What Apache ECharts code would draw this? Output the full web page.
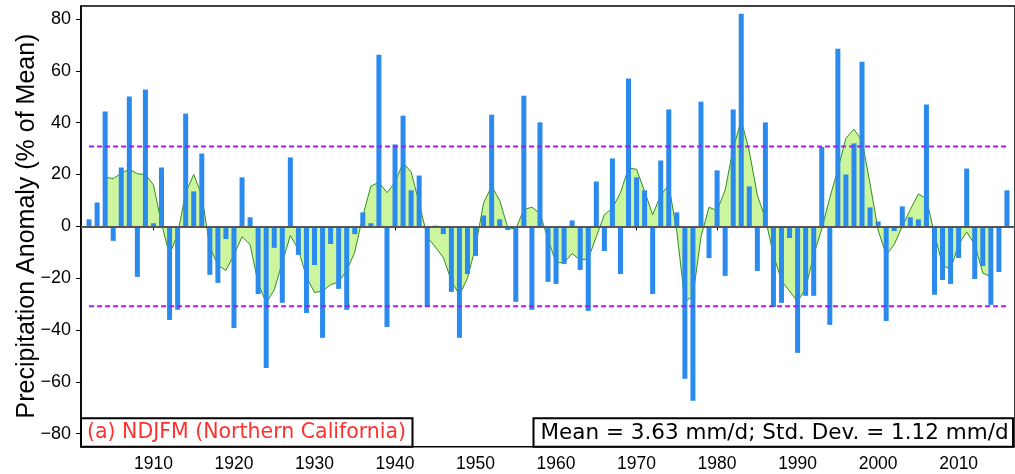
<!DOCTYPE html>
<html>
<head>
<meta charset="utf-8">
<script src="https://cdn.jsdelivr.net/npm/echarts@6/dist/echarts.min.js"></script>
<style>
html,body{margin:0;padding:0;background:#fff;}
#chart{width:1015px;height:474px;}
</style>
</head>
<body>
<div id="chart"></div>
<script>
// ---- Data ----
const barStartYear = 1902;
const anomalyPct = [
  2.7, 9.2, 44.3, -5.6, 22.7, 50.1, -19.5, 52.8, 1.2, 22.7,          // 1902-1911
  -36.1, -32.2, 43.5, 13.5, 28.1, -18.7, -21.8, -4.9, -39.2, 18.9,   // 1912-1921
  3.5, -26.1, -54.6, -8.3, -29.5, 26.6, -11.0, -33.4, -14.9, -43.0,  // 1922-1931
  -6.8, -24.1, -32.2, -3.0, 5.4, 1.2, 66.2, -38.8, 31.6, 42.7,       // 1932-1941
  13.9, 19.6, -31.1, 0.3, -3.0, -25.3, -43.0, -18.4, -11.4, 4.2,     // 1942-1951
  43.1, 2.7, -1.4, -29.1, 50.4, -32.2, 40.1, -21.4, -22.2, -14.5,    // 1952-1961
  2.3, -16.8, -32.6, 17.3, -9.5, 26.2, -18.4, 57.0, 18.9, 13.9,      // 1962-1971
  -26.1, 25.4, 45.1, 5.4, -58.8, -67.3, 48.1, -12.2, 21.6, -19.1,    // 1972-1981
  45.1, 82.0, 15.4, -17.2, 40.1, -31.1, -29.5, -4.5, -48.8, -26.8,   // 1982-1991
  -26.8, 30.6, -38.0, 68.5, 20.0, 32.0, 63.5, 7.3, 1.9, -36.5,       // 1992-2001
  -1.8, 7.7, 3.5, 2.7, 47.0, -26.4, -20.7, -22.2, -12.2, 22.3,       // 2002-2011
  -20.3, -15.3, -30.3, -17.6, 13.9                                   // 2012-2016
];
const smoothStartYear = 1904;
const smoothPct = [
  19, 18.4, 20.5, 22, 20.3, 20, 16, 1, -11, -3,                      // 1904-1913
  13, 20, 12, -8, -15, -17, -11, -4, -7, -22,                        // 1914-1923
  -29.5, -24.5, -14, -3.5, -9, -19.5, -25.5, -25, -22.5, -21.5,      // 1924-1933
  -17, -10, 4, 15.5, 17, 13, 17, 24.5, 21, 9,                        // 1934-1943
  -4, -8, -12, -21, -26.5, -20, -8, 9, 15.5, 10,                     // 1944-1953
  -0.5, -1, 6.5, 7.4, 5, -5, -14, -14, -10.5, -13,                   // 1954-1963
  -12.5, -4, 4.5, 7, 13, 22.5, 22, 13.5, 4.5, 12,                    // 1964-1973
  16, -2, -29, -27, -4, 7.4, 6, 14, 30, 41,                          // 1974-1983
  29, 12, 3, -11, -21, -25, -29, -24, -11, -1,                       // 1984-1993
  11, 22, 34, 37.5, 33, 16.4, -1.5, -11, -7, 0,                      // 1994-2003
  6.5, 12.5, 10.7, -3, -15, -16.5, -7, -2.2, -7, -18,                // 2004-2013
  -19.5                                                              // 2014
];
const stdPct = 30.85;            // 1.12 / 3.63 mm/d
const xTickYears = [1910, 1920, 1930, 1940, 1950, 1960, 1970, 1980, 1990, 2000, 2010];
const yTickValues = [-80, -60, -40, -20, 0, 20, 40, 60, 80];
const yAxisTitle = 'Precipitation Anomaly (% of Mean)';
const panelLabel = '(a) NDJFM (Northern California)';
const statsLabel = 'Mean = 3.63 mm/d; Std. Dev. = 1.12 mm/d';

// ---- Build series data ----
const barData = anomalyPct.map((v, i) => [barStartYear + i, v]);
const smoothData = smoothPct.map((v, i) => [smoothStartYear + i, v]);
const firstYear = barStartYear;
const lastYear = barStartYear + anomalyPct.length - 1;

const chart = echarts.init(document.getElementById('chart'), null, {renderer: 'canvas'});
const labelFont = 'Liberation Sans';

chart.setOption({
  animation: false,
  backgroundColor: '#ffffff',
  grid: {
    left: 81, top: 6, right: -3.6, bottom: 27.3,
    show: true, borderColor: '#000', borderWidth: 1.5, backgroundColor: 'transparent'
  },
  xAxis: {
    type: 'value', min: 1901, max: 2017,
    axisLine: {show: true, lineStyle: {color: '#000', width: 1.5}},
    axisTick: {show: true, customValues: xTickYears, length: 4, inside: false, lineStyle: {color: '#000', width: 1}},
    axisLabel: {customValues: xTickYears, color: '#000', fontFamily: labelFont, fontSize: 17.5, margin: 8,
      formatter: v => String(v)},
    splitLine: {show: false}
  },
  yAxis: {
    type: 'value', min: -85, max: 85,
    axisLine: {show: true, lineStyle: {color: '#000', width: 1.5}},
    axisTick: {show: true, customValues: yTickValues, length: 5, inside: false, lineStyle: {color: '#000', width: 1}},
    axisLabel: {customValues: yTickValues, color: '#000', fontFamily: labelFont, fontSize: 18, margin: 10,
      formatter: v => String(v).replace('-', '\u2212')},
    splitLine: {show: false}
  },
  series: [
    {
      type: 'line', name: 'smooth', data: smoothData, z: 2,
      symbol: 'none', smooth: false,
      lineStyle: {color: '#2f8f1f', width: 1},
      areaStyle: {color: '#cdf59e', opacity: 1}
    },
    {
      type: 'bar', name: 'anomaly', data: barData, z: 3,
      barWidth: 5,
      itemStyle: {color: '#2a8aee'},
      markLine: {
        silent: true, symbol: 'none', z: 5,
        label: {show: false},
        lineStyle: {color: '#555', width: 2, type: 'solid'},
        data: [{yAxis: 0}]
      }
    },
    {
      type: 'line', name: '+1sd', data: [[firstYear, stdPct], [lastYear, stdPct]], z: 4,
      symbol: 'none', lineStyle: {color: '#a020e8', width: 2, type: [5, 3]}
    },
    {
      type: 'line', name: '-1sd', data: [[firstYear, -stdPct], [lastYear, -stdPct]], z: 4,
      symbol: 'none', lineStyle: {color: '#a020e8', width: 2, type: [5, 3]}
    }
  ],
  graphic: [
    {
      type: 'text', x: 27, y: 226, rotation: Math.PI / 2, z: 10,
      style: {text: yAxisTitle, fontFamily: labelFont, fontSize: 25, fill: '#000', align: 'center', verticalAlign: 'middle'}
    },
    {
      type: 'rect', z: 10,
      shape: {x: 81, y: 418.3, width: 331.5, height: 28.4},
      style: {fill: '#fff', stroke: '#000', lineWidth: 2}
    },
    {
      type: 'text', x: 87, y: 433, z: 11,
      style: {text: panelLabel, fontFamily: 'DejaVu Sans', fontSize: 20.5, fill: '#ff3030', align: 'left', verticalAlign: 'middle'}
    },
    {
      type: 'rect', z: 10,
      shape: {x: 533.5, y: 418.3, width: 479.5, height: 28.4},
      style: {fill: '#fff', stroke: '#000', lineWidth: 2}
    },
    {
      type: 'text', x: 540.5, y: 433, z: 11,
      style: {text: statsLabel, fontFamily: 'DejaVu Sans', fontSize: 21.5, fill: '#000', align: 'left', verticalAlign: 'middle'}
    }
  ]
});
</script>
</body>
</html>
